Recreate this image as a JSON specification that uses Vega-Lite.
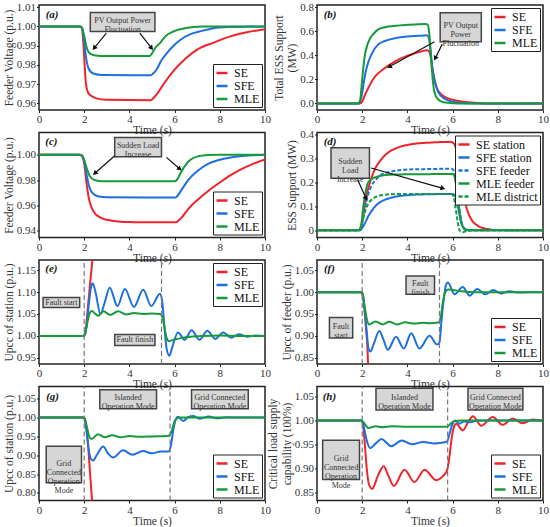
{
  "$schema": "https://vega.github.io/schema/vega-lite/v6.json",
  "background": "white",
  "padding": {"left": 2, "top": 0, "right": 2, "bottom": 0},
  "datasets": {
    "a": [
      {"s":"SE","t":0,"v":1},{"s":"SE","t":1.8,"v":1},{"s":"SE","t":1.9,"v":0.999},{"s":"SE","t":1.97,"v":0.99},{"s":"SE","t":2.03,"v":0.978},{"s":"SE","t":2.08,"v":0.97},{"s":"SE","t":2.2,"v":0.965},{"s":"SE","t":2.5,"v":0.9627},{"s":"SE","t":3.0,"v":0.9618},{"s":"SE","t":4.95,"v":0.9616},{"s":"SE","t":5.05,"v":0.9625},{"s":"SE","t":5.2,"v":0.9645},{"s":"SE","t":5.5,"v":0.9698},{"s":"SE","t":6.0,"v":0.9775},{"s":"SE","t":6.5,"v":0.9835},{"s":"SE","t":7.0,"v":0.988},{"s":"SE","t":7.7,"v":0.9915},{"s":"SE","t":8.5,"v":0.995},{"s":"SE","t":9.2,"v":0.997},{"s":"SE","t":10,"v":0.9986},
      {"s":"SFE","t":0,"v":1},{"s":"SFE","t":1.8,"v":1},{"s":"SFE","t":1.9,"v":0.9995},{"s":"SFE","t":2.0,"v":0.992},{"s":"SFE","t":2.08,"v":0.984},{"s":"SFE","t":2.2,"v":0.978},{"s":"SFE","t":2.4,"v":0.9755},{"s":"SFE","t":2.8,"v":0.9747},{"s":"SFE","t":4.95,"v":0.9746},{"s":"SFE","t":5.05,"v":0.9755},{"s":"SFE","t":5.2,"v":0.9775},{"s":"SFE","t":5.4,"v":0.982},{"s":"SFE","t":5.65,"v":0.986},{"s":"SFE","t":6.0,"v":0.9905},{"s":"SFE","t":6.25,"v":0.993},{"s":"SFE","t":6.7,"v":0.996},{"s":"SFE","t":7.1,"v":0.9974},{"s":"SFE","t":8,"v":0.9995},{"s":"SFE","t":10,"v":1},
      {"s":"MLE","t":0,"v":1},{"s":"MLE","t":1.8,"v":1},{"s":"MLE","t":1.9,"v":0.9995},{"s":"MLE","t":2.0,"v":0.995},{"s":"MLE","t":2.1,"v":0.9895},{"s":"MLE","t":2.25,"v":0.986},{"s":"MLE","t":2.5,"v":0.9849},{"s":"MLE","t":3,"v":0.9846},{"s":"MLE","t":4.9,"v":0.9846},{"s":"MLE","t":5.0,"v":0.986},{"s":"MLE","t":5.15,"v":0.989},{"s":"MLE","t":5.35,"v":0.9913},{"s":"MLE","t":5.6,"v":0.995},{"s":"MLE","t":5.95,"v":0.9974},{"s":"MLE","t":6.5,"v":0.9992},{"s":"MLE","t":7.2,"v":1},{"s":"MLE","t":10,"v":1}
    ],
    "a_box": [{"t":2.27,"t2":5.13,"v":0.9974,"v2":1.0073}],
    "a_lab": [{"t":3.7,"v":1.00235,"label":"PV Output Power\nFluctuation"}],
    "a_arr": [{"t":2.98,"v":0.9965,"t2":2.44,"v2":0.9887},{"t":4.46,"v":0.9965,"t2":4.98,"v2":0.9887}],
    "b": [
      {"s":"SE","t":0,"v":0},{"s":"SE","t":1.9,"v":0},{"s":"SE","t":2.0,"v":0.015},{"s":"SE","t":2.1,"v":0.06},{"s":"SE","t":2.3,"v":0.14},{"s":"SE","t":2.55,"v":0.22},{"s":"SE","t":2.9,"v":0.28},{"s":"SE","t":3.2,"v":0.32},{"s":"SE","t":3.5,"v":0.355},{"s":"SE","t":3.9,"v":0.39},{"s":"SE","t":4.3,"v":0.415},{"s":"SE","t":4.6,"v":0.432},{"s":"SE","t":4.85,"v":0.442},{"s":"SE","t":4.95,"v":0.435},{"s":"SE","t":5.03,"v":0.39},{"s":"SE","t":5.1,"v":0.3},{"s":"SE","t":5.2,"v":0.2},{"s":"SE","t":5.3,"v":0.13},{"s":"SE","t":5.45,"v":0.085},{"s":"SE","t":5.65,"v":0.055},{"s":"SE","t":6.0,"v":0.03},{"s":"SE","t":6.5,"v":0.013},{"s":"SE","t":7.0,"v":0.005},{"s":"SE","t":7.5,"v":0},{"s":"SE","t":10,"v":0},
      {"s":"SFE","t":0,"v":0},{"s":"SFE","t":1.85,"v":0},{"s":"SFE","t":1.95,"v":0.04},{"s":"SFE","t":2.05,"v":0.15},{"s":"SFE","t":2.15,"v":0.26},{"s":"SFE","t":2.3,"v":0.36},{"s":"SFE","t":2.5,"v":0.44},{"s":"SFE","t":2.7,"v":0.49},{"s":"SFE","t":3.0,"v":0.52},{"s":"SFE","t":3.5,"v":0.545},{"s":"SFE","t":4.0,"v":0.557},{"s":"SFE","t":4.5,"v":0.563},{"s":"SFE","t":4.85,"v":0.567},{"s":"SFE","t":4.95,"v":0.55},{"s":"SFE","t":5.02,"v":0.45},{"s":"SFE","t":5.1,"v":0.3},{"s":"SFE","t":5.2,"v":0.19},{"s":"SFE","t":5.35,"v":0.1},{"s":"SFE","t":5.5,"v":0.06},{"s":"SFE","t":5.8,"v":0.025},{"s":"SFE","t":6.2,"v":0.008},{"s":"SFE","t":7,"v":0},{"s":"SFE","t":10,"v":0},
      {"s":"MLE","t":0,"v":0},{"s":"MLE","t":1.8,"v":0},{"s":"MLE","t":1.9,"v":0.02},{"s":"MLE","t":2.0,"v":0.2},{"s":"MLE","t":2.1,"v":0.38},{"s":"MLE","t":2.25,"v":0.5},{"s":"MLE","t":2.5,"v":0.58},{"s":"MLE","t":2.7,"v":0.615},{"s":"MLE","t":3.0,"v":0.635},{"s":"MLE","t":3.5,"v":0.648},{"s":"MLE","t":4.0,"v":0.655},{"s":"MLE","t":4.8,"v":0.662},{"s":"MLE","t":4.9,"v":0.655},{"s":"MLE","t":4.97,"v":0.58},{"s":"MLE","t":5.05,"v":0.36},{"s":"MLE","t":5.12,"v":0.2},{"s":"MLE","t":5.2,"v":0.09},{"s":"MLE","t":5.35,"v":0.035},{"s":"MLE","t":5.6,"v":0.01},{"s":"MLE","t":6,"v":0.002},{"s":"MLE","t":6.5,"v":0},{"s":"MLE","t":10,"v":0}
    ],
    "b_box": [{"t":5.45,"t2":7.27,"v":0.514,"v2":0.756}],
    "b_lab": [{"t":6.36,"v":0.635,"label":"PV Output\nPower\nFluctuation"}],
    "b_arr": [{"t":5.2,"v":0.514,"t2":3.2,"v2":0.305},{"t":5.54,"v":0.494,"t2":5.23,"v2":0.375}],
    "c": [
      {"s":"SE","t":0,"v":1},{"s":"SE","t":1.8,"v":1},{"s":"SE","t":1.9,"v":0.999},{"s":"SE","t":2.0,"v":0.993},{"s":"SE","t":2.1,"v":0.978},{"s":"SE","t":2.2,"v":0.966},{"s":"SE","t":2.32,"v":0.9585},{"s":"SE","t":2.5,"v":0.953},{"s":"SE","t":2.7,"v":0.9505},{"s":"SE","t":3.0,"v":0.9485},{"s":"SE","t":3.5,"v":0.9472},{"s":"SE","t":4.0,"v":0.9467},{"s":"SE","t":6.05,"v":0.9465},{"s":"SE","t":6.15,"v":0.9475},{"s":"SE","t":6.3,"v":0.95},{"s":"SE","t":6.6,"v":0.957},{"s":"SE","t":7.0,"v":0.964},{"s":"SE","t":7.5,"v":0.9715},{"s":"SE","t":8.0,"v":0.978},{"s":"SE","t":8.5,"v":0.984},{"s":"SE","t":9.0,"v":0.989},{"s":"SE","t":9.5,"v":0.993},{"s":"SE","t":10,"v":0.9963},
      {"s":"SFE","t":0,"v":1},{"s":"SFE","t":1.8,"v":1},{"s":"SFE","t":1.9,"v":0.9993},{"s":"SFE","t":2.0,"v":0.995},{"s":"SFE","t":2.1,"v":0.985},{"s":"SFE","t":2.2,"v":0.976},{"s":"SFE","t":2.35,"v":0.97},{"s":"SFE","t":2.6,"v":0.9672},{"s":"SFE","t":3.0,"v":0.9663},{"s":"SFE","t":6.05,"v":0.9662},{"s":"SFE","t":6.15,"v":0.968},{"s":"SFE","t":6.3,"v":0.972},{"s":"SFE","t":6.6,"v":0.98},{"s":"SFE","t":7.0,"v":0.987},{"s":"SFE","t":7.5,"v":0.993},{"s":"SFE","t":8.0,"v":0.996},{"s":"SFE","t":9.0,"v":0.999},{"s":"SFE","t":10,"v":1},
      {"s":"MLE","t":0,"v":1},{"s":"MLE","t":1.8,"v":1},{"s":"MLE","t":1.9,"v":0.9995},{"s":"MLE","t":2.0,"v":0.996},{"s":"MLE","t":2.1,"v":0.99},{"s":"MLE","t":2.25,"v":0.983},{"s":"MLE","t":2.45,"v":0.98},{"s":"MLE","t":2.8,"v":0.979},{"s":"MLE","t":6.0,"v":0.979},{"s":"MLE","t":6.1,"v":0.98},{"s":"MLE","t":6.25,"v":0.985},{"s":"MLE","t":6.45,"v":0.991},{"s":"MLE","t":6.7,"v":0.996},{"s":"MLE","t":7.0,"v":0.9985},{"s":"MLE","t":7.5,"v":0.9997},{"s":"MLE","t":8,"v":1},{"s":"MLE","t":10,"v":1}
    ],
    "c_box": [{"t":3.35,"t2":5.42,"v":0.9984,"v2":1.0137}],
    "c_lab": [{"t":4.385,"v":1.006,"label":"Sudden Load\nIncrease"}],
    "c_arr": [{"t":3.35,"v":0.9992,"t2":2.47,"v2":0.9853},{"t":5.64,"v":0.9979,"t2":6.23,"v2":0.9887}],
    "d": [
      {"s":"SE station","t":0,"v":0},{"s":"SE station","t":1.85,"v":0},{"s":"SE station","t":1.95,"v":0.01},{"s":"SE station","t":2.05,"v":0.06},{"s":"SE station","t":2.17,"v":0.135},{"s":"SE station","t":2.35,"v":0.2},{"s":"SE station","t":2.55,"v":0.252},{"s":"SE station","t":2.8,"v":0.29},{"s":"SE station","t":3.13,"v":0.322},{"s":"SE station","t":3.6,"v":0.345},{"s":"SE station","t":4.17,"v":0.358},{"s":"SE station","t":5.0,"v":0.365},{"s":"SE station","t":5.9,"v":0.368},{"s":"SE station","t":6.05,"v":0.362},{"s":"SE station","t":6.15,"v":0.34},{"s":"SE station","t":6.25,"v":0.29},{"s":"SE station","t":6.38,"v":0.21},{"s":"SE station","t":6.5,"v":0.145},{"s":"SE station","t":6.6,"v":0.1},{"s":"SE station","t":6.8,"v":0.05},{"s":"SE station","t":7.1,"v":0.02},{"s":"SE station","t":7.5,"v":0.006},{"s":"SE station","t":8,"v":0.001},{"s":"SE station","t":10,"v":0},
      {"s":"SFE station","t":0,"v":0},{"s":"SFE station","t":1.9,"v":0},{"s":"SFE station","t":2.0,"v":0.01},{"s":"SFE station","t":2.1,"v":0.025},{"s":"SFE station","t":2.25,"v":0.055},{"s":"SFE station","t":2.45,"v":0.085},{"s":"SFE station","t":2.7,"v":0.111},{"s":"SFE station","t":3.0,"v":0.127},{"s":"SFE station","t":3.43,"v":0.139},{"s":"SFE station","t":4.0,"v":0.146},{"s":"SFE station","t":4.5,"v":0.149},{"s":"SFE station","t":6.0,"v":0.151},{"s":"SFE station","t":6.1,"v":0.145},{"s":"SFE station","t":6.2,"v":0.115},{"s":"SFE station","t":6.3,"v":0.065},{"s":"SFE station","t":6.4,"v":0.025},{"s":"SFE station","t":6.55,"v":0.006},{"s":"SFE station","t":6.8,"v":0},{"s":"SFE station","t":10,"v":0},
      {"s":"SFE feeder","t":0,"v":0},{"s":"SFE feeder","t":1.85,"v":0},{"s":"SFE feeder","t":1.95,"v":0.015},{"s":"SFE feeder","t":2.05,"v":0.06},{"s":"SFE feeder","t":2.13,"v":0.097},{"s":"SFE feeder","t":2.25,"v":0.145},{"s":"SFE feeder","t":2.39,"v":0.182},{"s":"SFE feeder","t":2.6,"v":0.21},{"s":"SFE feeder","t":2.84,"v":0.231},{"s":"SFE feeder","t":3.3,"v":0.245},{"s":"SFE feeder","t":3.87,"v":0.252},{"s":"SFE feeder","t":5.0,"v":0.255},{"s":"SFE feeder","t":5.95,"v":0.256},{"s":"SFE feeder","t":6.05,"v":0.248},{"s":"SFE feeder","t":6.12,"v":0.22},{"s":"SFE feeder","t":6.2,"v":0.16},{"s":"SFE feeder","t":6.3,"v":0.09},{"s":"SFE feeder","t":6.4,"v":0.035},{"s":"SFE feeder","t":6.5,"v":0.01},{"s":"SFE feeder","t":6.7,"v":0},{"s":"SFE feeder","t":10,"v":0},
      {"s":"MLE feeder","t":0,"v":0},{"s":"MLE feeder","t":1.85,"v":0},{"s":"MLE feeder","t":1.95,"v":0.02},{"s":"MLE feeder","t":2.05,"v":0.1},{"s":"MLE feeder","t":2.15,"v":0.16},{"s":"MLE feeder","t":2.25,"v":0.196},{"s":"MLE feeder","t":2.45,"v":0.215},{"s":"MLE feeder","t":2.69,"v":0.224},{"s":"MLE feeder","t":3.2,"v":0.231},{"s":"MLE feeder","t":4,"v":0.233},{"s":"MLE feeder","t":6.0,"v":0.234},{"s":"MLE feeder","t":6.08,"v":0.225},{"s":"MLE feeder","t":6.15,"v":0.19},{"s":"MLE feeder","t":6.25,"v":0.12},{"s":"MLE feeder","t":6.35,"v":0.05},{"s":"MLE feeder","t":6.45,"v":0.015},{"s":"MLE feeder","t":6.6,"v":0},{"s":"MLE feeder","t":10,"v":0},
      {"s":"MLE district","t":0,"v":0},{"s":"MLE district","t":1.85,"v":0},{"s":"MLE district","t":1.95,"v":0.015},{"s":"MLE district","t":2.05,"v":0.05},{"s":"MLE district","t":2.15,"v":0.085},{"s":"MLE district","t":2.3,"v":0.115},{"s":"MLE district","t":2.5,"v":0.133},{"s":"MLE district","t":2.84,"v":0.146},{"s":"MLE district","t":3.3,"v":0.15},{"s":"MLE district","t":4,"v":0.151},{"s":"MLE district","t":5.95,"v":0.151},{"s":"MLE district","t":6.05,"v":0.14},{"s":"MLE district","t":6.12,"v":0.1},{"s":"MLE district","t":6.2,"v":0.05},{"s":"MLE district","t":6.27,"v":0.012},{"s":"MLE district","t":6.35,"v":-0.006},{"s":"MLE district","t":6.45,"v":-0.008},{"s":"MLE district","t":6.6,"v":-0.003},{"s":"MLE district","t":6.9,"v":0},{"s":"MLE district","t":10,"v":0}
    ],
    "d_box": [{"t":0.62,"t2":2.32,"v":0.217,"v2":0.344}],
    "d_lab": [{"t":1.47,"v":0.2805,"label":"Sudden\nLoad\nIncrease"}],
    "d_arr": [{"t":1.8,"v":0.2099,"t2":2.17,"v2":0.1324},{"t":2.39,"v":0.2592,"t2":5.57,"v2":0.1746}],
    "e": [
      {"s":"SE","t":0,"v":1},{"s":"SE","t":2.0,"v":1},{"s":"SE","t":2.05,"v":1.005},{"s":"SE","t":2.12,"v":1.04},{"s":"SE","t":2.2,"v":1.085},{"s":"SE","t":2.28,"v":1.13},{"s":"SE","t":2.36,"v":1.17},{"s":"SE","t":2.45,"v":1.22},
      {"s":"SFE","t":0,"v":1},{"s":"SFE","t":1.95,"v":1},{"s":"SFE","t":2.02,"v":1.003},{"s":"SFE","t":2.1,"v":1.02},{"s":"SFE","t":2.2,"v":1.07},{"s":"SFE","t":2.3,"v":1.11},{"s":"SFE","t":2.38,"v":1.12},{"s":"SFE","t":2.5,"v":1.1},{"s":"SFE","t":2.72,"v":1.05},{"s":"SFE","t":2.9,"v":1.075},{"s":"SFE","t":3.13,"v":1.11},{"s":"SFE","t":3.47,"v":1.068},{"s":"SFE","t":3.8,"v":1.107},{"s":"SFE","t":4.2,"v":1.066},{"s":"SFE","t":4.61,"v":1.105},{"s":"SFE","t":4.97,"v":1.068},{"s":"SFE","t":5.35,"v":1.096},{"s":"SFE","t":5.45,"v":1.08},{"s":"SFE","t":5.55,"v":1.02},{"s":"SFE","t":5.65,"v":0.97},{"s":"SFE","t":5.77,"v":0.955},{"s":"SFE","t":5.9,"v":0.975},{"s":"SFE","t":6.15,"v":1.008},{"s":"SFE","t":6.45,"v":0.991},{"s":"SFE","t":6.75,"v":1.013},{"s":"SFE","t":7.1,"v":0.991},{"s":"SFE","t":7.45,"v":1.012},{"s":"SFE","t":7.8,"v":0.993},{"s":"SFE","t":8.15,"v":1.008},{"s":"SFE","t":8.5,"v":0.996},{"s":"SFE","t":8.85,"v":1.004},{"s":"SFE","t":9.2,"v":0.998},{"s":"SFE","t":9.6,"v":1.001},{"s":"SFE","t":10,"v":1},
      {"s":"MLE","t":0,"v":1},{"s":"MLE","t":1.95,"v":1},{"s":"MLE","t":2.02,"v":1.003},{"s":"MLE","t":2.1,"v":1.02},{"s":"MLE","t":2.2,"v":1.045},{"s":"MLE","t":2.33,"v":1.057},{"s":"MLE","t":2.5,"v":1.05},{"s":"MLE","t":2.62,"v":1.046},{"s":"MLE","t":2.85,"v":1.056},{"s":"MLE","t":3.15,"v":1.048},{"s":"MLE","t":3.5,"v":1.056},{"s":"MLE","t":3.85,"v":1.049},{"s":"MLE","t":4.2,"v":1.052},{"s":"MLE","t":4.6,"v":1.05},{"s":"MLE","t":5.0,"v":1.051},{"s":"MLE","t":5.35,"v":1.05},{"s":"MLE","t":5.45,"v":1.045},{"s":"MLE","t":5.55,"v":1.02},{"s":"MLE","t":5.65,"v":0.995},{"s":"MLE","t":5.75,"v":0.988},{"s":"MLE","t":5.95,"v":0.991},{"s":"MLE","t":6.3,"v":0.995},{"s":"MLE","t":6.7,"v":0.998},{"s":"MLE","t":7.3,"v":1.0},{"s":"MLE","t":8,"v":1.001},{"s":"MLE","t":9,"v":1.0},{"s":"MLE","t":10,"v":1}
    ],
    "e_box": [{"t":0.18,"t2":1.8,"v":1.0648,"v2":1.0874},{"t":3.35,"t2":5.13,"v":0.978,"v2":1.003}],
    "e_lab": [{"t":0.99,"v":1.0761,"label":"Fault start"},{"t":4.24,"v":0.9905,"label":"Fault finish"}],
    "e_ev": [{"t":2,"v":0.936,"v2":1.173},{"t":5.42,"v":0.936,"v2":1.173}],
    "f": [
      {"s":"SE","t":0,"v":1},{"s":"SE","t":2.0,"v":1},{"s":"SE","t":2.04,"v":0.99},{"s":"SE","t":2.08,"v":0.97},{"s":"SE","t":2.13,"v":0.942},{"s":"SE","t":2.18,"v":0.91},{"s":"SE","t":2.22,"v":0.885},{"s":"SE","t":2.26,"v":0.836},{"s":"SE","t":2.3,"v":0.8},
      {"s":"SFE","t":0,"v":1},{"s":"SFE","t":1.95,"v":1},{"s":"SFE","t":2.02,"v":0.995},{"s":"SFE","t":2.1,"v":0.965},{"s":"SFE","t":2.2,"v":0.91},{"s":"SFE","t":2.28,"v":0.87},{"s":"SFE","t":2.36,"v":0.864},{"s":"SFE","t":2.5,"v":0.88},{"s":"SFE","t":2.76,"v":0.911},{"s":"SFE","t":2.95,"v":0.89},{"s":"SFE","t":3.13,"v":0.868},{"s":"SFE","t":3.5,"v":0.898},{"s":"SFE","t":3.84,"v":0.871},{"s":"SFE","t":4.17,"v":0.906},{"s":"SFE","t":4.53,"v":0.871},{"s":"SFE","t":4.98,"v":0.9},{"s":"SFE","t":5.32,"v":0.88},{"s":"SFE","t":5.42,"v":0.885},{"s":"SFE","t":5.5,"v":0.93},{"s":"SFE","t":5.6,"v":0.98},{"s":"SFE","t":5.7,"v":1.015},{"s":"SFE","t":5.79,"v":1.022},{"s":"SFE","t":6.09,"v":0.995},{"s":"SFE","t":6.45,"v":1.012},{"s":"SFE","t":6.75,"v":0.992},{"s":"SFE","t":7.09,"v":1.007},{"s":"SFE","t":7.45,"v":0.995},{"s":"SFE","t":7.8,"v":1.005},{"s":"SFE","t":8.15,"v":0.997},{"s":"SFE","t":8.5,"v":1.002},{"s":"SFE","t":9.0,"v":0.999},{"s":"SFE","t":9.5,"v":1.0},{"s":"SFE","t":10,"v":1},
      {"s":"MLE","t":0,"v":1},{"s":"MLE","t":1.95,"v":1},{"s":"MLE","t":2.02,"v":0.995},{"s":"MLE","t":2.1,"v":0.97},{"s":"MLE","t":2.2,"v":0.94},{"s":"MLE","t":2.3,"v":0.926},{"s":"MLE","t":2.6,"v":0.933},{"s":"MLE","t":2.9,"v":0.926},{"s":"MLE","t":3.2,"v":0.932},{"s":"MLE","t":3.55,"v":0.926},{"s":"MLE","t":3.9,"v":0.931},{"s":"MLE","t":4.3,"v":0.928},{"s":"MLE","t":4.7,"v":0.93},{"s":"MLE","t":5.0,"v":0.929},{"s":"MLE","t":5.4,"v":0.931},{"s":"MLE","t":5.48,"v":0.945},{"s":"MLE","t":5.58,"v":0.98},{"s":"MLE","t":5.68,"v":1.0},{"s":"MLE","t":5.8,"v":1.006},{"s":"MLE","t":6.0,"v":1.005},{"s":"MLE","t":6.4,"v":1.002},{"s":"MLE","t":7.0,"v":1.0},{"s":"MLE","t":10,"v":1}
    ],
    "f_box": [{"t":3.94,"t2":5.2,"v":0.995,"v2":1.037},{"t":0.55,"t2":1.58,"v":0.895,"v2":0.942}],
    "f_lab": [{"t":4.57,"v":1.016,"label":"Fault\nfinish"},{"t":1.065,"v":0.9185,"label":"Fault\nstart"}],
    "f_ev": [{"t":2,"v":0.8355,"v2":1.0736},{"t":5.42,"v":0.8355,"v2":1.0736}],
    "g": [
      {"s":"SE","t":0,"v":1},{"s":"SE","t":2.0,"v":1},{"s":"SE","t":2.06,"v":0.99},{"s":"SE","t":2.14,"v":0.95},{"s":"SE","t":2.25,"v":0.86},{"s":"SE","t":2.36,"v":0.77},{"s":"SE","t":2.4,"v":0.74},
      {"s":"SFE","t":0,"v":1},{"s":"SFE","t":1.95,"v":1},{"s":"SFE","t":2.02,"v":0.995},{"s":"SFE","t":2.1,"v":0.965},{"s":"SFE","t":2.2,"v":0.915},{"s":"SFE","t":2.3,"v":0.89},{"s":"SFE","t":2.39,"v":0.886},{"s":"SFE","t":2.55,"v":0.9},{"s":"SFE","t":2.84,"v":0.923},{"s":"SFE","t":3.05,"v":0.905},{"s":"SFE","t":3.28,"v":0.894},{"s":"SFE","t":3.72,"v":0.913},{"s":"SFE","t":4.14,"v":0.901},{"s":"SFE","t":4.6,"v":0.911},{"s":"SFE","t":5.0,"v":0.905},{"s":"SFE","t":5.4,"v":0.91},{"s":"SFE","t":5.75,"v":0.91},{"s":"SFE","t":5.85,"v":0.93},{"s":"SFE","t":5.95,"v":0.97},{"s":"SFE","t":6.05,"v":0.995},{"s":"SFE","t":6.15,"v":1.002},{"s":"SFE","t":6.38,"v":0.991},{"s":"SFE","t":6.6,"v":1.001},{"s":"SFE","t":6.82,"v":1.004},{"s":"SFE","t":7.1,"v":0.997},{"s":"SFE","t":7.5,"v":1.003},{"s":"SFE","t":7.9,"v":0.998},{"s":"SFE","t":8.3,"v":1.001},{"s":"SFE","t":9,"v":1},{"s":"SFE","t":10,"v":1},
      {"s":"MLE","t":0,"v":1},{"s":"MLE","t":1.95,"v":1},{"s":"MLE","t":2.02,"v":0.997},{"s":"MLE","t":2.12,"v":0.975},{"s":"MLE","t":2.22,"v":0.95},{"s":"MLE","t":2.32,"v":0.943},{"s":"MLE","t":2.61,"v":0.956},{"s":"MLE","t":2.9,"v":0.948},{"s":"MLE","t":3.25,"v":0.953},{"s":"MLE","t":3.6,"v":0.948},{"s":"MLE","t":4.0,"v":0.951},{"s":"MLE","t":4.5,"v":0.949},{"s":"MLE","t":5.0,"v":0.95},{"s":"MLE","t":5.7,"v":0.951},{"s":"MLE","t":5.8,"v":0.955},{"s":"MLE","t":5.9,"v":0.97},{"s":"MLE","t":6.0,"v":0.99},{"s":"MLE","t":6.1,"v":0.998},{"s":"MLE","t":6.3,"v":1.0},{"s":"MLE","t":10,"v":1}
    ],
    "g_box": [{"t":2.69,"t2":5.2,"v":1.0235,"v2":1.0738},{"t":6.75,"t2":9.26,"v":1.0235,"v2":1.0738},{"t":0.32,"t2":1.88,"v":0.8266,"v2":0.9237}],
    "g_lab": [{"t":3.945,"v":1.0487,"label":"Islanded\nOperation Mode"},{"t":8.005,"v":1.0487,"label":"Grid Connected\nOperation Mode"},{"t":1.1,"v":0.8752,"label":"Grid\nConnected\nOperation\nMode"}],
    "g_ev": [{"t":2,"v":0.7797,"v2":1.0827},{"t":5.8,"v":0.7797,"v2":1.0827}],
    "h": [
      {"s":"SE","t":0,"v":1},{"s":"SE","t":1.95,"v":1},{"s":"SE","t":2.02,"v":0.995},{"s":"SE","t":2.1,"v":0.96},{"s":"SE","t":2.2,"v":0.9},{"s":"SE","t":2.3,"v":0.866},{"s":"SE","t":2.44,"v":0.857},{"s":"SE","t":2.7,"v":0.885},{"s":"SE","t":2.95,"v":0.904},{"s":"SE","t":3.15,"v":0.885},{"s":"SE","t":3.4,"v":0.863},{"s":"SE","t":3.87,"v":0.897},{"s":"SE","t":4.31,"v":0.871},{"s":"SE","t":4.76,"v":0.897},{"s":"SE","t":5.27,"v":0.875},{"s":"SE","t":5.6,"v":0.885},{"s":"SE","t":5.75,"v":0.895},{"s":"SE","t":5.85,"v":0.92},{"s":"SE","t":5.95,"v":0.96},{"s":"SE","t":6.05,"v":0.985},{"s":"SE","t":6.16,"v":0.993},{"s":"SE","t":6.45,"v":0.979},{"s":"SE","t":6.7,"v":0.998},{"s":"SE","t":6.9,"v":1.009},{"s":"SE","t":7.27,"v":0.989},{"s":"SE","t":7.78,"v":1.007},{"s":"SE","t":8.2,"v":0.991},{"s":"SE","t":8.67,"v":1.004},{"s":"SE","t":9.1,"v":0.994},{"s":"SE","t":9.55,"v":1.002},{"s":"SE","t":10,"v":0.998},
      {"s":"SFE","t":0,"v":1},{"s":"SFE","t":1.95,"v":1},{"s":"SFE","t":2.02,"v":0.997},{"s":"SFE","t":2.1,"v":0.98},{"s":"SFE","t":2.2,"v":0.958},{"s":"SFE","t":2.36,"v":0.942},{"s":"SFE","t":2.6,"v":0.952},{"s":"SFE","t":2.87,"v":0.961},{"s":"SFE","t":3.08,"v":0.953},{"s":"SFE","t":3.28,"v":0.946},{"s":"SFE","t":3.75,"v":0.958},{"s":"SFE","t":4.2,"v":0.95},{"s":"SFE","t":4.7,"v":0.955},{"s":"SFE","t":5.2,"v":0.952},{"s":"SFE","t":5.7,"v":0.955},{"s":"SFE","t":5.78,"v":0.958},{"s":"SFE","t":5.88,"v":0.975},{"s":"SFE","t":6.0,"v":0.993},{"s":"SFE","t":6.12,"v":1.0},{"s":"SFE","t":6.3,"v":0.993},{"s":"SFE","t":6.5,"v":0.998},{"s":"SFE","t":6.8,"v":0.996},{"s":"SFE","t":7.1,"v":1.0},{"s":"SFE","t":10,"v":1},
      {"s":"MLE","t":0,"v":1},{"s":"MLE","t":1.95,"v":1},{"s":"MLE","t":2.05,"v":0.997},{"s":"MLE","t":2.15,"v":0.99},{"s":"MLE","t":2.27,"v":0.984},{"s":"MLE","t":2.6,"v":0.988},{"s":"MLE","t":2.9,"v":0.986},{"s":"MLE","t":3.3,"v":0.988},{"s":"MLE","t":4,"v":0.987},{"s":"MLE","t":5.75,"v":0.987},{"s":"MLE","t":5.85,"v":0.99},{"s":"MLE","t":5.95,"v":0.995},{"s":"MLE","t":6.1,"v":0.999},{"s":"MLE","t":6.4,"v":1.0},{"s":"MLE","t":10,"v":1}
    ],
    "h_box": [{"t":2.61,"t2":5.13,"v":1.022,"v2":1.0676},{"t":6.68,"t2":9.11,"v":1.022,"v2":1.0676},{"t":0.25,"t2":1.88,"v":0.8766,"v2":0.9587}],
    "h_lab": [{"t":3.87,"v":1.0448,"label":"Islanded\nOperation Mode"},{"t":7.895,"v":1.0448,"label":"Grid Connected\nOperation Mode"},{"t":1.065,"v":0.9177,"label":"Grid\nConnected\nOperation\nMode"}],
    "h_ev": [{"t":2,"v":0.8325,"v2":1.071},{"t":5.78,"v":0.8325,"v2":1.071}]
  },
  "columns": 2,
  "spacing": {"row": 22.5, "column": 52},
  "bounds": "flush",
  "align": "each",
  "resolve": {"scale": {"color": "independent", "strokeDash": "independent"}, "legend": {"color": "independent", "strokeDash": "independent"}},
  "concat": [
    {
      "width": 226, "height": 105,
      "encoding": {
        "x": {"field": "t", "type": "quantitative", "scale": {"domain": [0, 10], "nice": false}, "axis": {"values": [0, 2, 4, 6, 8, 10], "title": "Time (s)"}},
        "y": {"field": "v", "type": "quantitative", "scale": {"domain": [0.9565, 1.0112], "nice": false, "zero": false}, "axis": {"values": [0.96, 0.97, 0.98, 0.99, 1.0, 1.01], "format": ".2f", "title": "Feeder Voltage (p.u.)"}}
      },
      "layer": [
        {"data": {"name": "a"}, "mark": {"type": "line", "interpolate": "monotone", "strokeWidth": 2, "clip": true},
         "encoding": {"color": {"field": "s", "type": "nominal", "scale": {"domain": ["SE", "SFE", "MLE"], "range": ["#f0232a", "#1e6fe0", "#169a3a"]}, "legend": {"orient": "bottom-right", "title": null}}}},
        {"data": {"name": "a_box"}, "mark": {"type": "rect", "fill": "#d6d6d6", "stroke": "#444", "strokeWidth": 1.5}, "encoding": {"x2": {"field": "t2"}, "y2": {"field": "v2"}}},
        {"data": {"name": "a_lab"}, "mark": {"type": "text", "lineBreak": "\n", "fontSize": 8, "lineHeight": 9, "dy": -1, "color": "#333"}, "encoding": {"text": {"field": "label"}}},
        {"data": {"name": "a_arr"}, "mark": {"type": "rule", "color": "#111", "strokeWidth": 1.2}, "encoding": {"x2": {"field": "t2"}, "y2": {"field": "v2"}}},
        {"data": {"values": [{"t": 2.44, "v": 0.9887}]}, "mark": {"type": "point", "shape": "triangle-up", "filled": true, "color": "#111", "opacity": 1, "size": 30, "angle": 219}, "encoding": {}},
        {"data": {"values": [{"t": 4.98, "v": 0.9887}]}, "mark": {"type": "point", "shape": "triangle-up", "filled": true, "color": "#111", "opacity": 1, "size": 30, "angle": 141}, "encoding": {}},
        {"data": {"values": [{"t": 0.58, "v": 1.0061}]}, "mark": {"type": "text", "text": "(a)", "fontStyle": "italic", "fontWeight": "bold", "fontSize": 11, "color": "#111"}, "encoding": {}}
      ]
    },
    {
      "width": 226, "height": 105,
      "encoding": {
        "x": {"field": "t", "type": "quantitative", "scale": {"domain": [0, 10], "nice": false}, "axis": {"values": [0, 2, 4, 6, 8, 10], "title": "Time (s)"}},
        "y": {"field": "v", "type": "quantitative", "scale": {"domain": [-0.055, 0.82], "nice": false, "zero": false}, "axis": {"values": [0, 0.2, 0.4, 0.6, 0.8], "title": ["Total ESS Support", "(MW)"]}}
      },
      "layer": [
        {"data": {"name": "b"}, "mark": {"type": "line", "interpolate": "monotone", "strokeWidth": 2, "clip": true},
         "encoding": {"color": {"field": "s", "type": "nominal", "scale": {"domain": ["SE", "SFE", "MLE"], "range": ["#f0232a", "#1e6fe0", "#169a3a"]}, "legend": {"orient": "top-right", "title": null}}}},
        {"data": {"name": "b_box"}, "mark": {"type": "rect", "fill": "#d6d6d6", "stroke": "#444", "strokeWidth": 1.5}, "encoding": {"x2": {"field": "t2"}, "y2": {"field": "v2"}}},
        {"data": {"name": "b_lab"}, "mark": {"type": "text", "lineBreak": "\n", "fontSize": 8, "lineHeight": 9, "dy": -1, "color": "#333"}, "encoding": {"text": {"field": "label"}}},
        {"data": {"name": "b_arr"}, "mark": {"type": "rule", "color": "#111", "strokeWidth": 1.2}, "encoding": {"x2": {"field": "t2"}, "y2": {"field": "v2"}}},
        {"data": {"values": [{"t": 3.2, "v": 0.305}]}, "mark": {"type": "point", "shape": "triangle-up", "filled": true, "color": "#111", "opacity": 1, "size": 30, "angle": 241}, "encoding": {}},
        {"data": {"values": [{"t": 5.23, "v": 0.375}]}, "mark": {"type": "point", "shape": "triangle-up", "filled": true, "color": "#111", "opacity": 1, "size": 30, "angle": 206}, "encoding": {}},
        {"data": {"values": [{"t": 0.58, "v": 0.736}]}, "mark": {"type": "text", "text": "(b)", "fontStyle": "italic", "fontWeight": "bold", "fontSize": 11, "color": "#111"}, "encoding": {}}
      ]
    },
    {
      "width": 226, "height": 105,
      "encoding": {
        "x": {"field": "t", "type": "quantitative", "scale": {"domain": [0, 10], "nice": false}, "axis": {"values": [0, 2, 4, 6, 8, 10], "title": "Time (s)"}},
        "y": {"field": "v", "type": "quantitative", "scale": {"domain": [0.9345, 1.0176], "nice": false, "zero": false}, "axis": {"values": [0.94, 0.96, 0.98, 1.0], "format": ".2f", "title": "Feeder Voltage (p.u.)"}}
      },
      "layer": [
        {"data": {"name": "c"}, "mark": {"type": "line", "interpolate": "monotone", "strokeWidth": 2, "clip": true},
         "encoding": {"color": {"field": "s", "type": "nominal", "scale": {"domain": ["SE", "SFE", "MLE"], "range": ["#f0232a", "#1e6fe0", "#169a3a"]}, "legend": {"orient": "bottom-right", "title": null}}}},
        {"data": {"name": "c_box"}, "mark": {"type": "rect", "fill": "#d6d6d6", "stroke": "#444", "strokeWidth": 1.5}, "encoding": {"x2": {"field": "t2"}, "y2": {"field": "v2"}}},
        {"data": {"name": "c_lab"}, "mark": {"type": "text", "lineBreak": "\n", "fontSize": 8, "lineHeight": 9, "dy": -1, "color": "#333"}, "encoding": {"text": {"field": "label"}}},
        {"data": {"name": "c_arr"}, "mark": {"type": "rule", "color": "#111", "strokeWidth": 1.2}, "encoding": {"x2": {"field": "t2"}, "y2": {"field": "v2"}}},
        {"data": {"values": [{"t": 2.47, "v": 0.9853}]}, "mark": {"type": "point", "shape": "triangle-up", "filled": true, "color": "#111", "opacity": 1, "size": 30, "angle": 228}, "encoding": {}},
        {"data": {"values": [{"t": 6.23, "v": 0.9887}]}, "mark": {"type": "point", "shape": "triangle-up", "filled": true, "color": "#111", "opacity": 1, "size": 30, "angle": 131}, "encoding": {}},
        {"data": {"values": [{"t": 0.55, "v": 1.0097}]}, "mark": {"type": "text", "text": "(c)", "fontStyle": "italic", "fontWeight": "bold", "fontSize": 11, "color": "#111"}, "encoding": {}}
      ]
    },
    {
      "width": 226, "height": 105,
      "encoding": {
        "x": {"field": "t", "type": "quantitative", "scale": {"domain": [0, 10], "nice": false}, "axis": {"values": [0, 2, 4, 6, 8, 10], "title": "Time (s)"}},
        "y": {"field": "v", "type": "quantitative", "scale": {"domain": [-0.03, 0.407], "nice": false, "zero": false}, "axis": {"values": [0, 0.1, 0.2, 0.3, 0.4], "format": "~g", "title": "ESS Support (MW)"}}
      },
      "layer": [
        {"data": {"name": "d"}, "mark": {"type": "line", "interpolate": "monotone", "strokeWidth": 2, "clip": true},
         "encoding": {
           "color": {"field": "s", "type": "nominal", "scale": {"domain": ["SE station", "SFE station", "SFE feeder", "MLE feeder", "MLE district"], "range": ["#f0232a", "#1e6fe0", "#1e6fe0", "#169a3a", "#169a3a"]}, "legend": {"orient": "top-right", "title": null}},
           "strokeDash": {"field": "s", "type": "nominal", "scale": {"domain": ["SE station", "SFE station", "SFE feeder", "MLE feeder", "MLE district"], "range": [[1, 0], [1, 0], [4, 2], [1, 0], [4, 2]]}, "legend": {"orient": "top-right", "title": null}}
         }},
        {"data": {"name": "d_box"}, "mark": {"type": "rect", "fill": "#d6d6d6", "stroke": "#444", "strokeWidth": 1.5}, "encoding": {"x2": {"field": "t2"}, "y2": {"field": "v2"}}},
        {"data": {"name": "d_lab"}, "mark": {"type": "text", "lineBreak": "\n", "fontSize": 8, "lineHeight": 9, "dy": -1, "color": "#333"}, "encoding": {"text": {"field": "label"}}},
        {"data": {"name": "d_arr"}, "mark": {"type": "rule", "color": "#111", "strokeWidth": 1.2}, "encoding": {"x2": {"field": "t2"}, "y2": {"field": "v2"}}},
        {"data": {"values": [{"t": 2.17, "v": 0.1324}]}, "mark": {"type": "point", "shape": "triangle-up", "filled": true, "color": "#111", "opacity": 1, "size": 30, "angle": 156}, "encoding": {}},
        {"data": {"values": [{"t": 5.57, "v": 0.1746}]}, "mark": {"type": "point", "shape": "triangle-up", "filled": true, "color": "#111", "opacity": 1, "size": 30, "angle": 106}, "encoding": {}},
        {"data": {"values": [{"t": 0.58, "v": 0.3676}]}, "mark": {"type": "text", "text": "(d)", "fontStyle": "italic", "fontWeight": "bold", "fontSize": 11, "color": "#111"}, "encoding": {}}
      ]
    },
    {
      "width": 226, "height": 104,
      "encoding": {
        "x": {"field": "t", "type": "quantitative", "scale": {"domain": [0, 10], "nice": false}, "axis": {"values": [0, 2, 4, 6, 8, 10], "title": "Time (s)"}},
        "y": {"field": "v", "type": "quantitative", "scale": {"domain": [0.936, 1.173], "nice": false, "zero": false}, "axis": {"values": [0.95, 1.0, 1.05, 1.1, 1.15], "format": ".2f", "title": "Upcc of station (p.u.)"}}
      },
      "layer": [
        {"data": {"name": "e"}, "mark": {"type": "line", "interpolate": "monotone", "strokeWidth": 2, "clip": true},
         "encoding": {"color": {"field": "s", "type": "nominal", "scale": {"domain": ["SE", "SFE", "MLE"], "range": ["#f0232a", "#1e6fe0", "#169a3a"]}, "legend": {"orient": "top-right", "title": null}}}},
        {"data": {"name": "e_ev"}, "mark": {"type": "rule", "color": "#777", "strokeWidth": 1.2, "strokeDash": [5, 3]}, "encoding": {"y2": {"field": "v2"}}},
        {"data": {"name": "e_box"}, "mark": {"type": "rect", "fill": "#d6d6d6", "stroke": "#444", "strokeWidth": 1.5}, "encoding": {"x2": {"field": "t2"}, "y2": {"field": "v2"}}},
        {"data": {"name": "e_lab"}, "mark": {"type": "text", "lineBreak": "\n", "fontSize": 8, "lineHeight": 9, "color": "#333"}, "encoding": {"text": {"field": "label"}}},
        {"data": {"values": [{"t": 0.55, "v": 1.1515}]}, "mark": {"type": "text", "text": "(e)", "fontStyle": "italic", "fontWeight": "bold", "fontSize": 11, "color": "#111"}, "encoding": {}}
      ]
    },
    {
      "width": 226, "height": 104,
      "encoding": {
        "x": {"field": "t", "type": "quantitative", "scale": {"domain": [0, 10], "nice": false}, "axis": {"values": [0, 2, 4, 6, 8, 10], "title": "Time (s)"}},
        "y": {"field": "v", "type": "quantitative", "scale": {"domain": [0.8355, 1.0736], "nice": false, "zero": false}, "axis": {"values": [0.85, 0.9, 0.95, 1.0, 1.05], "format": ".2f", "title": "Upcc of feeder (p.u.)"}}
      },
      "layer": [
        {"data": {"name": "f"}, "mark": {"type": "line", "interpolate": "monotone", "strokeWidth": 2, "clip": true},
         "encoding": {"color": {"field": "s", "type": "nominal", "scale": {"domain": ["SE", "SFE", "MLE"], "range": ["#f0232a", "#1e6fe0", "#169a3a"]}, "legend": {"orient": "bottom-right", "title": null}}}},
        {"data": {"name": "f_ev"}, "mark": {"type": "rule", "color": "#777", "strokeWidth": 1.2, "strokeDash": [5, 3]}, "encoding": {"y2": {"field": "v2"}}},
        {"data": {"name": "f_box"}, "mark": {"type": "rect", "fill": "#d6d6d6", "stroke": "#444", "strokeWidth": 1.5}, "encoding": {"x2": {"field": "t2"}, "y2": {"field": "v2"}}},
        {"data": {"name": "f_lab"}, "mark": {"type": "text", "lineBreak": "\n", "fontSize": 8, "lineHeight": 9, "dy": -1, "color": "#333"}, "encoding": {"text": {"field": "label"}}},
        {"data": {"values": [{"t": 0.55, "v": 1.0523}]}, "mark": {"type": "text", "text": "(f)", "fontStyle": "italic", "fontWeight": "bold", "fontSize": 11, "color": "#111"}, "encoding": {}}
      ]
    },
    {
      "width": 226, "height": 114,
      "encoding": {
        "x": {"field": "t", "type": "quantitative", "scale": {"domain": [0, 10], "nice": false}, "axis": {"values": [0, 2, 4, 6, 8, 10], "title": "Time (s)"}},
        "y": {"field": "v", "type": "quantitative", "scale": {"domain": [0.7797, 1.0827], "nice": false, "zero": false}, "axis": {"values": [0.8, 0.85, 0.9, 0.95, 1.0, 1.05], "format": ".2f", "title": "Upcc of station (p.u.)"}}
      },
      "layer": [
        {"data": {"name": "g"}, "mark": {"type": "line", "interpolate": "monotone", "strokeWidth": 2, "clip": true},
         "encoding": {"color": {"field": "s", "type": "nominal", "scale": {"domain": ["SE", "SFE", "MLE"], "range": ["#f0232a", "#1e6fe0", "#169a3a"]}, "legend": {"orient": "bottom-right", "title": null}}}},
        {"data": {"name": "g_ev"}, "mark": {"type": "rule", "color": "#777", "strokeWidth": 1.2, "strokeDash": [5, 3]}, "encoding": {"y2": {"field": "v2"}}},
        {"data": {"name": "g_box"}, "mark": {"type": "rect", "fill": "#d6d6d6", "stroke": "#444", "strokeWidth": 1.5}, "encoding": {"x2": {"field": "t2"}, "y2": {"field": "v2"}}},
        {"data": {"name": "g_lab"}, "mark": {"type": "text", "lineBreak": "\n", "fontSize": 8, "lineHeight": 9, "dy": -1, "color": "#333"}, "encoding": {"text": {"field": "label"}}},
        {"data": {"values": [{"t": 0.6, "v": 1.056}]}, "mark": {"type": "text", "text": "(g)", "fontStyle": "italic", "fontWeight": "bold", "fontSize": 11, "color": "#111"}, "encoding": {}}
      ]
    },
    {
      "width": 226, "height": 114,
      "encoding": {
        "x": {"field": "t", "type": "quantitative", "scale": {"domain": [0, 10], "nice": false}, "axis": {"values": [0, 2, 4, 6, 8, 10], "title": "Time (s)"}},
        "y": {"field": "v", "type": "quantitative", "scale": {"domain": [0.8325, 1.071], "nice": false, "zero": false}, "axis": {"values": [0.85, 0.9, 0.95, 1.0, 1.05], "format": ".2f", "title": ["Critical load supply", "capability (100%)"]}}
      },
      "layer": [
        {"data": {"name": "h"}, "mark": {"type": "line", "interpolate": "monotone", "strokeWidth": 2, "clip": true},
         "encoding": {"color": {"field": "s", "type": "nominal", "scale": {"domain": ["SE", "SFE", "MLE"], "range": ["#f0232a", "#1e6fe0", "#169a3a"]}, "legend": {"orient": "bottom-right", "title": null}}}},
        {"data": {"name": "h_ev"}, "mark": {"type": "rule", "color": "#777", "strokeWidth": 1.2, "strokeDash": [5, 3]}, "encoding": {"y2": {"field": "v2"}}},
        {"data": {"name": "h_box"}, "mark": {"type": "rect", "fill": "#d6d6d6", "stroke": "#444", "strokeWidth": 1.5}, "encoding": {"x2": {"field": "t2"}, "y2": {"field": "v2"}}},
        {"data": {"name": "h_lab"}, "mark": {"type": "text", "lineBreak": "\n", "fontSize": 8, "lineHeight": 9, "dy": -1, "color": "#333"}, "encoding": {"text": {"field": "label"}}},
        {"data": {"values": [{"t": 0.55, "v": 1.05}]}, "mark": {"type": "text", "text": "(h)", "fontStyle": "italic", "fontWeight": "bold", "fontSize": 11, "color": "#111"}, "encoding": {}}
      ]
    }
  ],
  "config": {
    "font": "Liberation Serif",
    "view": {"stroke": "#222", "strokeWidth": 1.5},
    "axis": {"grid": false, "domain": false, "labelOverlap": false, "tickColor": "#222", "tickSize": 2.5, "labelFont": "Liberation Serif", "labelFontSize": 11, "labelColor": "#333", "labelPadding": 1, "titleFont": "Liberation Serif", "titleFontSize": 11.5, "titleFontWeight": "normal", "titleColor": "#333", "titlePadding": 2},
    "axisX": {"titlePadding": 0, "labelFlush": false, "titleFontWeight": "normal"},
    "axisY": {"titleFontWeight": "normal"},
    "legend": {"strokeColor": "#222", "fillColor": "white", "padding": 2, "rowPadding": 0, "symbolType": "stroke", "symbolStrokeWidth": 2.5, "symbolSize": 121, "labelFont": "Liberation Serif", "labelFontSize": 12, "labelColor": "#111", "offset": 3, "labelOffset": 5, "cornerRadius": 0},
    "text": {"font": "Liberation Serif"}
  }
}
